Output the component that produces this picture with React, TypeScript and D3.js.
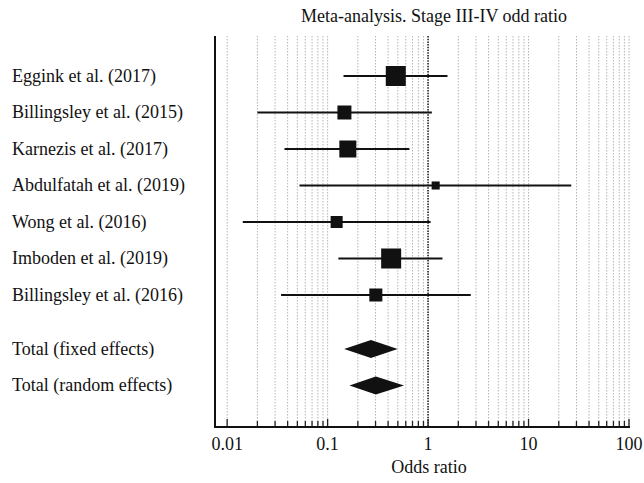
import * as d3 from 'd3'

const studies = [
  'Eggink et al. (2017)',
  'Billingsley et al. (2015)',
  'Karnezis et al. (2017)',
  'Abdulfatah et al. (2019)',
  'Wong et al. (2016)',
  'Imboden et al. (2019)',
  'Billingsley et al. (2016)',
]
const oddsRatio = [0.477, 0.147, 0.159, 1.19, 0.123, 0.429, 0.302]
const ciLow = [0.144, 0.02, 0.0372, 0.0525, 0.0143, 0.128, 0.0344]
const ciHigh = [1.56, 1.09, 0.652, 26.6, 1.06, 1.39, 2.66]
const weights = [24.1, 11.8, 17.4, 3.9, 8.7, 24.1, 10.2]

const totals = ['Total (fixed effects)', 'Total (random effects)']
const totalOR = [0.27, 0.302]
const totalLow = [0.146, 0.165]
const totalHigh = [0.498, 0.576]

const tickLabels = [0.01, 0.1, 1, 10, 100]

const W = 644
const H = 483
const left = 215
const top = 36
const bottom = 427
const font = 'Liberation Serif'

export default function App() {
  const x = d3.scaleLog().domain([0.00757, 100]).range([left, 629])
  const rowY = d3.scaleLinear().domain([0, 1]).range([76, 112.5])
  const totalY = d3.scaleLinear().domain([0, 1]).range([349, 385.5])
  const size = d3.scaleSqrt().domain([0, d3.max(weights)!]).range([0, 20])

  // minor gridlines 1..9 per decade
  const minor: number[] = []
  for (let e = -2; e <= 1; e++) {
    for (let m = 1; m <= 9; m++) minor.push(m * Math.pow(10, e))
  }
  minor.push(100)

  return (
    <svg width={W} height={H} style={{ position: 'absolute', left: 0, top: 0, background: '#fff' }}>
      <text x={434} y={22} textAnchor="middle" fontSize={18} fontFamily={font} fill="#111">
        Meta-analysis. Stage III-IV odd ratio
      </text>

      {minor.map((v, i) => (
        <g key={i}>
          {v !== 1 && (
            <line x1={x(v)} x2={x(v)} y1={top} y2={bottom} stroke="#b5b5b5" strokeWidth={1} strokeDasharray="1.5,1.5" />
          )}
          <line x1={x(v)} x2={x(v)} y1={bottom} y2={bottom - (tickLabels.includes(v) ? 8 : 6)} stroke="#222" strokeWidth={1.3} />
        </g>
      ))}
      <line x1={x(1)} x2={x(1)} y1={top} y2={bottom} stroke="#222" strokeWidth={1.6} strokeDasharray="1.5,1.2" />

      <line x1={left} x2={left} y1={top} y2={bottom + 1} stroke="#111" strokeWidth={2} />
      <line x1={left} x2={630} y1={bottom} y2={bottom} stroke="#111" strokeWidth={2} />

      {tickLabels.map((v) => (
        <text key={v} x={x(v)} y={450} textAnchor="middle" fontSize={18} fontFamily={font} fill="#111">
          {String(v)}
        </text>
      ))}
      <text x={429} y={473} textAnchor="middle" fontSize={18} fontFamily={font} fill="#111">
        Odds ratio
      </text>

      {studies.map((s, i) => {
        const y = rowY(i)
        const sz = size(weights[i])
        return (
          <g key={s}>
            <text x={12} y={y + 5.5} fontSize={18} fontFamily={font} fill="#111">
              {s}
            </text>
            <line x1={x(ciLow[i])} x2={x(ciHigh[i])} y1={y} y2={y} stroke="#111" strokeWidth={2} />
            <rect x={x(oddsRatio[i]) - sz / 2} y={y - sz / 2} width={sz} height={sz} fill="#111" />
          </g>
        )
      })}

      {totals.map((s, i) => {
        const y = totalY(i)
        const d = `M${x(totalLow[i])},${y} L${x(totalOR[i])},${y - 9} L${x(totalHigh[i])},${y} L${x(totalOR[i])},${y + 9} Z`
        return (
          <g key={s}>
            <text x={12} y={y + 5.5} fontSize={18} fontFamily={font} fill="#111">
              {s}
            </text>
            <path d={d} fill="#111" />
          </g>
        )
      })}
    </svg>
  )
}
